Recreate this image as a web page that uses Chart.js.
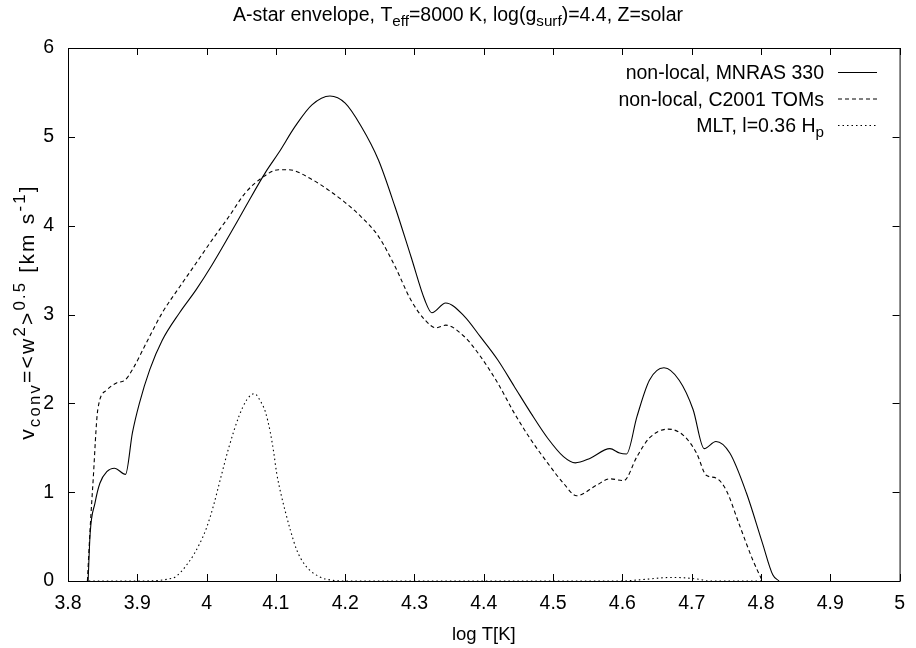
<!DOCTYPE html>
<html>
<head>
<meta charset="utf-8">
<script src="https://cdn.jsdelivr.net/npm/chart.js@4.4.1/dist/chart.umd.min.js"></script>
<style>
  html, body { margin: 0; padding: 0; background: #fff; }
  #wrap { width: 916px; height: 648px; }
</style>
</head>
<body>
<div id="wrap"><canvas id="chart" width="916" height="648"></canvas></div>
<script>
const FONT = '"Liberation Sans", Arial, Helvetica, sans-serif';

// log T [K] and v_conv [km/s]
const mnrasT = [3.829, 3.832, 3.839, 3.846, 3.856, 3.867, 3.883, 3.893, 3.903, 3.918, 3.936, 3.961,
  3.985, 4.008, 4.032, 4.056, 4.085, 4.104, 4.128, 4.152, 4.178, 4.2, 4.223, 4.248, 4.272, 4.295,
  4.315, 4.325, 4.345, 4.372, 4.395, 4.42, 4.444, 4.468, 4.492, 4.515, 4.532, 4.553, 4.582, 4.596,
  4.606, 4.621, 4.639, 4.66, 4.682, 4.702, 4.718, 4.735, 4.755, 4.779, 4.802, 4.817, 4.826];
const mnrasV = [0, 0.54, 0.88, 1.1, 1.23, 1.27, 1.2, 1.67, 2.0, 2.38, 2.71, 3.02,
  3.28, 3.56, 3.88, 4.21, 4.6, 4.82, 5.12, 5.36, 5.46, 5.38, 5.12, 4.74, 4.21, 3.65,
  3.16, 3.02, 3.13, 2.98, 2.75, 2.49, 2.19, 1.89, 1.61, 1.4, 1.33, 1.38, 1.49, 1.44,
  1.43, 1.85, 2.26, 2.4, 2.26, 1.93, 1.49, 1.57, 1.44, 0.99, 0.43, 0.07, 0];

const tomsT = [3.828, 3.832, 3.836, 3.843, 3.856, 3.87, 3.882, 3.893, 3.913, 3.936, 3.961, 3.985,
  4.008, 4.032, 4.056, 4.08, 4.104, 4.118, 4.152, 4.176, 4.2, 4.223, 4.248, 4.272, 4.295, 4.315,
  4.331, 4.345, 4.372, 4.395, 4.42, 4.444, 4.468, 4.492, 4.515, 4.534, 4.563, 4.582, 4.602, 4.621,
  4.639, 4.666, 4.688, 4.707, 4.721, 4.735, 4.75, 4.768, 4.788, 4.802];
const tomsV = [0, 0.6, 1.1, 1.93, 2.15, 2.23, 2.26, 2.38, 2.68, 3.02, 3.31, 3.58,
  3.84, 4.1, 4.37, 4.54, 4.63, 4.63, 4.52, 4.4, 4.26, 4.1, 3.88, 3.54, 3.16, 2.94,
  2.85, 2.88, 2.75, 2.53, 2.23, 1.89, 1.59, 1.33, 1.1, 0.96, 1.08, 1.15, 1.13, 1.4,
  1.61, 1.71, 1.64, 1.44, 1.19, 1.16, 1.02, 0.65, 0.24, 0];

const mltT = [3.83, 3.9, 3.95, 3.975, 3.99, 4.0, 4.01, 4.02, 4.032, 4.047, 4.058, 4.069, 4.078,
  4.085, 4.092, 4.097, 4.101, 4.107, 4.114, 4.121, 4.13, 4.142, 4.162, 4.18, 4.2,
  4.6, 4.62, 4.673, 4.71, 4.725, 4.8];
const mltV = [0, 0, 0.03, 0.22, 0.42, 0.6, 0.85, 1.15, 1.5, 1.86, 2.04, 2.11, 2.02,
  1.9, 1.67, 1.44, 1.22, 0.99, 0.77, 0.57, 0.35, 0.18, 0.05, 0.01, 0,
  0, 0.01, 0.04, 0.02, 0, 0];

// rich text pieces: [text, 0 normal | -1 subscript | 1 superscript]
const titleParts = [['A-star envelope, T', 0], ['eff', -1], ['=8000 K, log(g', 0], ['surf', -1], [')=4.4, Z=solar', 0]];
const yTitleParts = [['v', 0], ['conv', -1], ['=<w', 0], ['2', 1], ['>', 0], ['0.5', 1], [' [km s', 0], ['-1', 1], [']', 0]];
const xTitle = 'log T[K]';
const seriesNames = [
  [['non-local, MNRAS 330', 0]],
  [['non-local, C2001 TOMs', 0]],
  [['MLT, l=0.36 H', 0], ['p', -1]]
];
const seriesDash = [[], [4, 3], [1.5, 3]];

const toPts = (xs, ys) => xs.map((x, i) => ({ x, y: ys[i] }));

function drawRich(ctx, parts, x, y, align, size, spacing = 0, subScale = 0.78) {
  const small = size * subScale;
  ctx.letterSpacing = spacing + 'px';
  let w = 0;
  parts.forEach(([t, m]) => { ctx.font = `${m ? small : size}px ${FONT}`; w += ctx.measureText(t).width; });
  let cx = align === 'center' ? x - w / 2 : align === 'right' ? x - w : x;
  ctx.textAlign = 'left';
  ctx.textBaseline = 'alphabetic';
  parts.forEach(([t, m]) => {
    ctx.font = `${m ? small : size}px ${FONT}`;
    const dy = m === -1 ? size * 0.27 : m === 1 ? -size * 0.45 : 0;
    ctx.fillText(t, cx, y + dy);
    cx += ctx.measureText(t).width;
  });
  ctx.letterSpacing = '0px';
}

const frame = {
  id: 'frame',
  afterDraw(chart) {
    const { ctx, chartArea: a, scales } = chart;
    ctx.save();
    ctx.strokeStyle = '#000';
    ctx.fillStyle = '#000';
    ctx.lineWidth = 1;
    ctx.strokeRect(a.left + 0.5, a.top + 0.5, a.right - a.left, a.bottom - a.top);
    const tl = 7;
    ctx.beginPath();
    scales.x.ticks.forEach(t => {
      const p = Math.round(scales.x.getPixelForValue(t.value)) + 0.5;
      ctx.moveTo(p, a.bottom); ctx.lineTo(p, a.bottom - tl);
      ctx.moveTo(p, a.top); ctx.lineTo(p, a.top + tl);
    });
    scales.y.ticks.forEach(t => {
      const p = Math.round(scales.y.getPixelForValue(t.value)) + 0.5;
      ctx.moveTo(a.left, p); ctx.lineTo(a.left + tl, p);
      ctx.moveTo(a.right, p); ctx.lineTo(a.right - tl, p);
    });
    ctx.stroke();

    // title
    drawRich(ctx, titleParts, 458, 21, 'center', 19.5);
    // x title
    ctx.font = `18.5px ${FONT}`;
    ctx.textAlign = 'center';
    ctx.textBaseline = 'alphabetic';
    ctx.fillText(xTitle, (a.left + a.right) / 2, 640);
    // y title
    ctx.save();
    ctx.translate(34, 312);
    ctx.rotate(-Math.PI / 2);
    drawRich(ctx, yTitleParts, 0, 0, 'center', 21, 2.2, 0.8);
    ctx.restore();

    // legend
    seriesNames.forEach((parts, i) => {
      const yc = 72 + i * 26.5;
      drawRich(ctx, parts, 824, yc + 7, 'right', 19.5);
      ctx.beginPath();
      ctx.setLineDash(seriesDash[i]);
      ctx.moveTo(838, yc + 0.5); ctx.lineTo(877, yc + 0.5);
      ctx.stroke();
      ctx.setLineDash([]);
    });
    ctx.restore();
  }
};

const mk = (label, pts, dash) => ({
  label, data: pts, borderColor: '#000', borderWidth: 1.1, borderDash: dash,
  pointRadius: 0, fill: false, cubicInterpolationMode: 'monotone'
});

new Chart(document.getElementById('chart'), {
  type: 'line',
  data: {
    datasets: [
      mk('mnras', toPts(mnrasT, mnrasV), seriesDash[0]),
      mk('toms', toPts(tomsT, tomsV), seriesDash[1]),
      mk('mlt', toPts(mltT, mltV), seriesDash[2])
    ]
  },
  options: {
    responsive: false,
    animation: false,
    layout: { padding: { left: 0, top: 48, right: 11, bottom: 0 } },
    plugins: { legend: { display: false }, tooltip: { enabled: false }, title: { display: false } },
    scales: {
      x: {
        type: 'linear', min: 3.8, max: 5,
        grid: { display: false, drawTicks: false },
        border: { display: false },
        ticks: {
          stepSize: 0.1, padding: 11, color: '#000', maxRotation: 0, autoSkip: false,
          font: { family: FONT, size: 19.5 },
          callback: v => String(Number(v.toFixed(1)))
        },
        afterFit: s => { s.height = 67; }
      },
      y: {
        type: 'linear', min: 0, max: 6,
        grid: { display: false, drawTicks: false },
        border: { display: false },
        ticks: { stepSize: 1, padding: 14, color: '#000', font: { family: FONT, size: 19.5 } },
        afterFit: s => { s.width = 68; }
      }
    }
  },
  plugins: [frame]
});
</script>
</body>
</html>
